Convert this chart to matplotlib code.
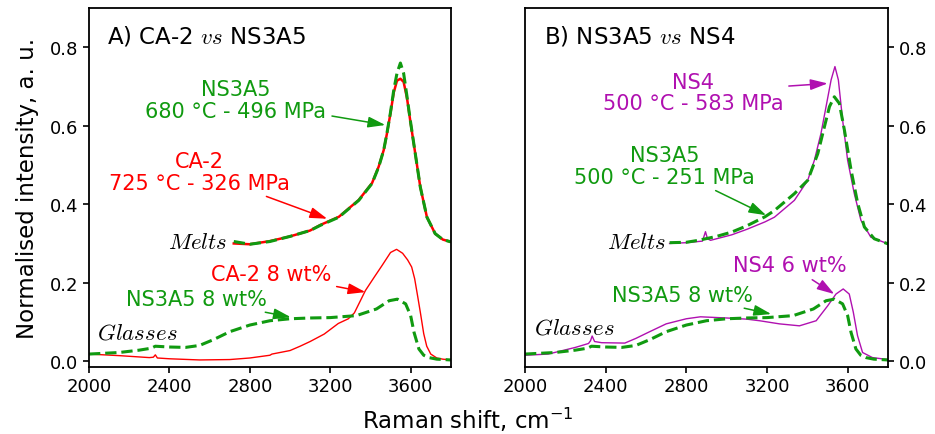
import matplotlib
matplotlib.use("Agg")
import matplotlib.pyplot as plt

# Glass spectra (bottom curves)
ca2_glass_x = [2000, 2150, 2300, 2320, 2330, 2340, 2400, 2550, 2700, 2800, 2900, 2910,
               3000, 3050, 3100, 3170, 3240, 3290, 3320, 3375, 3420, 3458, 3500, 3530,
               3560, 3585, 3605, 3620, 3635, 3648, 3665, 3680, 3700, 3730, 3760, 3800]
ca2_glass_y = [0.018, 0.014, 0.009, 0.010, 0.016, 0.008, 0.006, 0.003, 0.004, 0.008, 0.015, 0.018,
               0.027, 0.038, 0.050, 0.069, 0.096, 0.108, 0.123, 0.180, 0.215, 0.244, 0.277, 0.285,
               0.275, 0.258, 0.240, 0.210, 0.165, 0.125, 0.070, 0.038, 0.018, 0.008, 0.005, 0.003]

ns3a5_glass_x = [2000, 2150, 2250, 2310, 2330, 2400, 2480, 2550, 2620, 2700, 2800, 2900,
                 3000, 3100, 3200, 3330, 3430, 3493, 3534, 3575, 3600, 3617, 3641, 3665,
                 3691, 3730, 3800]
ns3a5_glass_y = [0.018, 0.022, 0.028, 0.033, 0.038, 0.036, 0.035, 0.040, 0.055, 0.075, 0.092, 0.103,
                 0.108, 0.110, 0.111, 0.116, 0.133, 0.154, 0.158, 0.146, 0.116, 0.073, 0.031, 0.015,
                 0.009, 0.005, 0.003]

ns4_glass_x = [2000, 2115, 2250, 2315, 2325, 2333, 2345, 2380, 2495, 2550, 2610, 2700, 2800,
               2870, 3000, 3100, 3163, 3262, 3361, 3444, 3501, 3542, 3578, 3608, 3628, 3649,
               3674, 3723, 3800]
ns4_glass_y = [0.015, 0.018, 0.035, 0.045, 0.052, 0.064, 0.050, 0.047, 0.046, 0.058, 0.073, 0.095, 0.108,
               0.113, 0.110, 0.107, 0.103, 0.095, 0.090, 0.103, 0.141, 0.171, 0.184, 0.171, 0.125, 0.065,
               0.022, 0.009, 0.004]

# Melt spectra (upper curves)
melt_a_x = [2720, 2800, 2900, 3000, 3100, 3150, 3243, 3342, 3408, 3441, 3466, 3482, 3499,
            3516, 3532, 3549, 3565, 3582, 3598, 3623, 3648, 3681, 3722, 3760, 3800]
ns3a5_melt_a_y = [0.305, 0.298, 0.305, 0.318, 0.333, 0.346, 0.367, 0.410, 0.453, 0.495, 0.538, 0.581, 0.632,
                  0.691, 0.734, 0.760, 0.734, 0.674, 0.615, 0.529, 0.444, 0.367, 0.325, 0.310, 0.304]
ca2_melt_y = [0.300, 0.298, 0.306, 0.318, 0.333, 0.347, 0.368, 0.411, 0.454, 0.496, 0.538, 0.580, 0.630,
              0.685, 0.715, 0.720, 0.712, 0.670, 0.613, 0.529, 0.444, 0.367, 0.325, 0.310, 0.304]

ns3a5_melt_b_x = [2717, 2800, 2860, 2950, 3025, 3100, 3190, 3237, 3336, 3402, 3452, 3485, 3510,
                  3534, 3559, 3584, 3617, 3650, 3683, 3732, 3800]
ns3a5_melt_b_y = [0.302, 0.303, 0.308, 0.318, 0.329, 0.345, 0.368, 0.384, 0.427, 0.461, 0.529, 0.598, 0.649,
                  0.674, 0.657, 0.589, 0.487, 0.402, 0.342, 0.312, 0.299]

ns4_melt_x = [2717, 2800, 2880, 2895, 2905, 2920, 3025, 3100, 3190, 3237, 3336, 3402, 3435,
              3468, 3493, 3518, 3537, 3554, 3575, 3600, 3633, 3666, 3715, 3800]
ns4_melt_y = [0.300, 0.302, 0.306, 0.330, 0.312, 0.308, 0.322, 0.336, 0.355, 0.367, 0.410, 0.461, 0.512,
              0.581, 0.649, 0.717, 0.751, 0.717, 0.615, 0.512, 0.427, 0.359, 0.316, 0.299]

x_ticks = [2000, 2400, 2800, 3200, 3600]
y_ticks = [0.0, 0.2, 0.4, 0.6, 0.8]

GREEN = "#109a10"
RED = "#ff0000"
PURPLE = "#b010b0"

ANN_SIZE = 15
ARROW = dict(arrowstyle="-|>,head_length=0.7,head_width=0.22", lw=1.1, shrinkA=2, shrinkB=0)


def note(ax, text, xy, xytext, color):
    ax.annotate(text, xy=xy, xytext=xytext, color=color, fontsize=ANN_SIZE,
                ha="center", va="center", linespacing=1.1,
                arrowprops=dict(ARROW, color=color))


def style_axes(ax, right=False):
    ax.set_xlim(2000, 3800)
    ax.set_ylim(-0.015, 0.9)
    ax.set_xticks(x_ticks)
    ax.set_yticks(y_ticks)
    ax.set_yticklabels([f"{v:.1f}" for v in y_ticks])
    ax.tick_params(direction="out", length=4, width=1.2, labelsize=13)
    if right:
        ax.yaxis.tick_right()
    for sp in ax.spines.values():
        sp.set_linewidth(1.3)


fig = plt.figure(figsize=(9.35, 4.35), dpi=100)
ax1 = fig.add_axes([0.0952, 0.154, 0.387, 0.825])
ax2 = fig.add_axes([0.5615, 0.154, 0.3882, 0.825])

# Panel A
ax1.plot(ca2_glass_x, ca2_glass_y, color=RED, lw=1.0)
ax1.plot(ns3a5_glass_x, ns3a5_glass_y, color=GREEN, lw=2.2, ls="--")
ax1.plot(melt_a_x, ca2_melt_y, color=RED, lw=1.8)
ax1.plot(melt_a_x, ns3a5_melt_a_y, color=GREEN, lw=2.2, ls="--")

ax1.text(2089, 0.829, "A) CA-2 $vs$ NS3A5", fontsize=16.5, ha="left", va="center",
         math_fontfamily="cm")
ax1.text(2690, 0.305, "$Melts$", fontsize=16.5, ha="right", va="center", math_fontfamily="cm")
ax1.text(2041, 0.073, "$Glasses$", fontsize=16.5, ha="left", va="center", math_fontfamily="cm")

note(ax1, "NS3A5\n680 °C - 496 MPa", (3474, 0.602), (2731, 0.666), GREEN)
note(ax1, "CA-2\n725 °C - 326 MPa", (3185, 0.363), (2550, 0.4825), RED)
note(ax1, "CA-2 8 wt%", (3375, 0.176), (2905, 0.2225), RED)
note(ax1, "NS3A5 8 wt%", (3004, 0.112), (2536, 0.1586), GREEN)

style_axes(ax1)
ax1.set_ylabel("Normalised intensity, a. u.", fontsize=16.5, labelpad=8)

# Panel B
ax2.plot(ns4_glass_x, ns4_glass_y, color=PURPLE, lw=1.0)
ax2.plot(ns3a5_glass_x, ns3a5_glass_y, color=GREEN, lw=2.2, ls="--")
ax2.plot(ns4_melt_x, ns4_melt_y, color=PURPLE, lw=1.0)
ax2.plot(ns3a5_melt_b_x, ns3a5_melt_b_y, color=GREEN, lw=2.2, ls="--")

ax2.text(2094, 0.829, "B) NS3A5 $vs$ NS4", fontsize=16.5, ha="left", va="center",
         math_fontfamily="cm")
ax2.text(2701, 0.305, "$Melts$", fontsize=16.5, ha="right", va="center", math_fontfamily="cm")
ax2.text(2046, 0.086, "$Glasses$", fontsize=16.5, ha="left", va="center", math_fontfamily="cm")

note(ax2, "NS4\n500 °C - 583 MPa", (3501, 0.708), (2833, 0.685), PURPLE)
note(ax2, "NS3A5\n500 °C - 251 MPa", (3196, 0.372), (2693, 0.498), GREEN)
note(ax2, "NS4 6 wt%", (3534, 0.171), (3315, 0.244), PURPLE)
note(ax2, "NS3A5 8 wt%", (3221, 0.120), (2781, 0.169), GREEN)

style_axes(ax2, right=True)

fig.text(0.5, 0.003, "Raman shift, cm$^{-1}$", fontsize=16.5, ha="center", va="bottom")

fig.savefig("out.png", dpi=100)
